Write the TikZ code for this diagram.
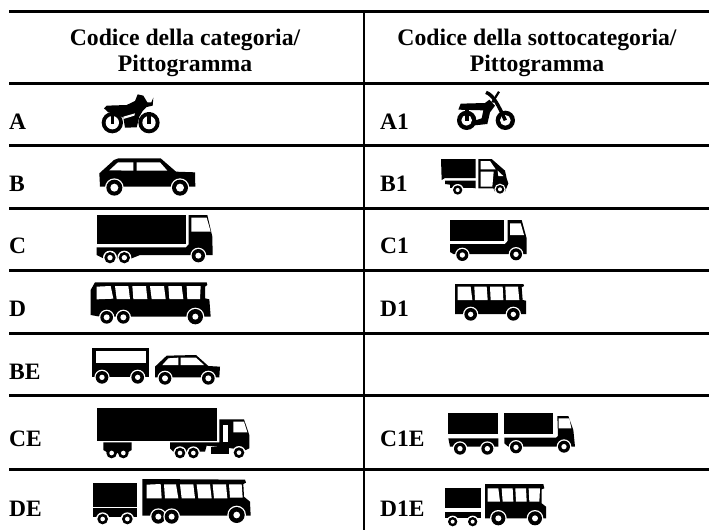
\documentclass[tikz,border=0pt]{standalone}
\usepackage{fontspec}
\setmainfont{Liberation Serif}
\newcommand\ww[4]{\fill[white] (#1,#2) circle ({#3+4}); \fill[black] (#1,#2) circle (#3); \fill[white] (#1,#2) circle (#4);}
\newcommand\wplain[4]{\fill[black] (#1,#2) circle (#3); \fill[white] (#1,#2) circle (#4);}
\tikzset{
  hrule/.style={line width=3pt,black},
  vrule/.style={line width=2pt,black},
  head/.style={font=\fontsize{23.7}{26}\selectfont\bfseries,align=center,inner sep=0pt},
  code/.style={font=\fontsize{23.5}{26}\selectfont\bfseries,anchor=base west,inner sep=0pt},
  zoomed/.style={shift={(#1)},x=0.33333pt,y=-0.33333pt},
  bk/.style={fill=black},
  wh/.style={fill=white}
}
\begin{document}
\begin{tikzpicture}[x=1pt,y=-1pt]
\useasboundingbox[fill=white] (0,0) rectangle (709,530);
% table rules
\coordinate (tl) at (9,11.5); \coordinate (tr) at (709,11.5);
\draw[hrule] (tl) -- (tr);
\foreach \yy in {83,145.7,208.3,270.5,333.3,395.7,469.5}{\draw[hrule] (9,\yy) -- (709,\yy);}
\coordinate (vt) at (364,11); \coordinate (vb) at (364,530);
\draw[vrule] (vt) -- (vb);
% headers
\node[head] (h1) at (185,53) {Codice della categoria/\\Pittogramma};
\node[head] (h2) at (537,53) {Codice della sottocategoria/\\Pittogramma};
% codes
\node[code] (cA) at (9,129) {A};
\node[code] (cB) at (9,191) {B};
\node[code] (cC) at (9,253) {C};
\node[code] (cD) at (9,316) {D};
\node[code] (cBE) at (9,379) {BE};
\node[code] (cCE) at (9,446) {CE};
\node[code] (cDE) at (9,516) {DE};
\node[code] (cA1) at (380,129) {A1};
\node[code] (cB1) at (380,191) {B1};
\node[code] (cC1) at (380,253) {C1};
\node[code] (cD1) at (380,316) {D1};
\node[code] (cC1E) at (380,446) {C1E};
\node[code] (cD1E) at (380,516) {D1E};

% A motorcycle
\begin{scope}[zoomed={90,75}]
\fill[bk] (42,100) -- (50,92) -- (110,90) -- (135,78) -- (143,58) -- (160,62) -- (172,82) -- (184,82) -- (190,68) -- (188,92) -- (170,96) -- (158,108) -- (148,125) -- (140,157) -- (105,158) -- (100,128) -- (80,118) -- (55,112) -- cycle;
\wplain{67}{143}{32}{20}
\wplain{177}{143}{32}{20}
\fill[white] (100,125) -- (135,115) -- (133,122) -- (100,132) -- cycle;
\fill[bk] (62,112) rectangle (72,148);
\fill[bk] (172,112) rectangle (182,148);
\end{scope}
% B car
\begin{scope}[zoomed={90,75}]
\fill[bk] (28,295) -- (72,255) -- (85,250) -- (212,250) -- (258,290) -- (315,292) -- (316,335) -- (30,335) -- cycle;
\fill[wh] (58,286) -- (84,262) -- (130,262) -- (130,287) -- cycle;
\fill[wh] (140,262) -- (210,262) -- (232,287) -- (140,287) -- cycle;
\ww{73}{338}{24}{12}
\ww{270}{338}{24}{12}
\end{scope}
% C truck
\begin{scope}[zoomed={90,240}]
\fill[bk] (20,-75) rectangle (287,13);
\fill[bk] (20,22) -- (288,22) -- (296,13) -- (296,-75) -- (352,-75) -- (367,-10) -- (368,45) -- (150,45) -- (125,55) -- (40,55) -- (20,45) -- cycle;
\fill[wh] (304,-67) -- (350,-67) -- (362,-25) -- (304,-25) -- cycle;
\ww{60}{53}{17}{8}
\ww{103}{53}{17}{8}
\ww{325}{47}{20}{9}
\end{scope}
% D bus
\begin{scope}[zoomed={90,240}]
\fill[bk] (15,127) -- (350,127) -- (352,135) -- (345,140) -- (345,175) -- (358,178) -- (362,230) -- (30,230) -- (2,225) -- (2,150) -- cycle;
\fill[wh] (20,140) -- (62,138) -- (70,176) -- (20,178) -- cycle;
\fill[wh] (75,138) -- (115,138) -- (120,177) -- (80,177) -- cycle;
\fill[wh] (127,138) -- (168,138) -- (172,177) -- (130,177) -- cycle;
\fill[wh] (180,138) -- (222,138) -- (227,177) -- (185,177) -- cycle;
\fill[wh] (235,138) -- (275,138) -- (280,177) -- (238,177) -- cycle;
\fill[wh] (290,138) -- (332,138) -- (330,177) -- (292,177) -- cycle;
\ww{50}{232}{19}{9}
\ww{100}{232}{19}{9}
\ww{316}{230}{23}{9}
\end{scope}
% BE
\begin{scope}[zoomed={90,240}]
\fill[bk] (5,323) rectangle (178,412);
\fill[wh] (17,333) rectangle (168,370);
\ww{36}{412}{19}{8}
\ww{143}{412}{19}{8}
\fill[bk] (195,380) -- (230,347) -- (318,345) -- (355,378) -- (390,380) -- (388,412) -- (195,412) -- cycle;
\fill[wh] (217,375) -- (235,355) -- (265,353) -- (265,375) -- cycle;
\fill[wh] (272,353) -- (318,353) -- (342,375) -- (272,375) -- cycle;
\ww{225}{415}{19}{9}
\ww{355}{415}{19}{9}
\end{scope}
% CE
\begin{scope}[zoomed={90,385}]
\fill[bk] (20,70) rectangle (380,167);
\fill[bk] (40,172) -- (125,172) -- (125,195) -- (110,204) -- (55,204) -- (40,195) -- cycle;
\wplain{65}{204}{16}{7}
\wplain{100}{204}{16}{7}
\fill[bk] (240,172) -- (398,172) -- (398,120) -- (413,120) -- (413,172) -- (388,172) -- (388,103) -- (462,103) -- (478,150) -- (478,190) -- (465,196) -- (425,190) -- (350,182) -- (345,200) -- (250,200) -- (240,190) -- cycle;
\fill[wh] (398,120) rectangle (413,172);
\fill[wh] (430,110) -- (462,110) -- (472,142) -- (430,142) -- cycle;
\fill[bk] (362,187) rectangle (416,208);
\ww{270}{204}{16}{7}
\ww{310}{204}{16}{7}
\ww{447}{203}{16}{7}
\end{scope}
% DE
\begin{scope}[zoomed={90,385}]
\fill[bk] (8,293) rectangle (140,365);
\fill[bk] (8,370) rectangle (140,396);
\ww{38}{402}{16}{7}
\ww{112}{402}{16}{7}
\fill[bk] (157,282) -- (465,284) -- (468,293) -- (460,297) -- (462,335) -- (480,350) -- (482,392) -- (157,392) -- cycle;
\fill[wh] (170,299) -- (212,297) -- (215,340) -- (170,340) -- cycle;
\fill[wh] (222,298) -- (258,298) -- (265,340) -- (225,340) -- cycle;
\fill[wh] (270,298) -- (310,298) -- (315,340) -- (275,340) -- cycle;
\fill[wh] (320,298) -- (360,298) -- (365,340) -- (325,340) -- cycle;
\fill[wh] (368,298) -- (408,298) -- (412,340) -- (372,340) -- cycle;
\fill[wh] (417,298) -- (455,298) -- (458,338) -- (420,338) -- cycle;
\ww{205}{395}{21}{9}
\ww{245}{395}{21}{9}
\ww{440}{390}{24}{10}
\end{scope}
% A1 motorcycle
\begin{scope}[zoomed={430,75}]
\wplain{110}{136}{29}{16}
\wplain{226}{136}{29}{16}
\fill[bk] (85,104) -- (92,86) -- (165,84) -- (178,74) -- (195,92) -- (180,112) -- (172,147) -- (125,152) -- (125,140) -- (155,130) -- (160,106) -- cycle;
\fill[bk] (104,100) rectangle (116,138);
\draw[line width=3.5pt] (168,52) .. controls (190,60) and (205,90) .. (226,136);
\draw[line width=2.2pt] (207,50) -- (187,82);
\end{scope}
% B1 three-wheeler
\begin{scope}[zoomed={435,150}]
\fill[bk] (18,27) -- (122,27) -- (122,84) -- (30,84) -- (20,90) -- cycle;
\fill[bk] (30,92) -- (122,92) -- (122,115) -- (30,102) -- cycle;
\fill[bk] (130,27) -- (170,27) -- (210,62) -- (215,85) -- (220,100) -- (210,125) -- (180,125) -- (175,115) -- (130,115) -- cycle;
\fill[wh] (137,33) -- (165,33) -- (182,58) -- (137,58) -- cycle;
\fill[wh] (137,65) -- (176,65) -- (172,110) -- (137,110) -- cycle;
\fill[wh] (188,62) -- (205,78) -- (190,78) -- cycle;
\fill[bk] (45,100) rectangle (110,115);
\ww{68}{120}{14}{6}
\ww{195}{118}{13}{6}
\end{scope}
% C1
\begin{scope}[zoomed={430,240}]
\fill[bk] (60,-60) rectangle (222,3);
\fill[bk] (60,12) -- (225,12) -- (233,3) -- (233,-60) -- (275,-60) -- (290,-5) -- (290,42) -- (70,42) -- (60,36) -- cycle;
\fill[wh] (240,-50) -- (272,-50) -- (282,-15) -- (240,-15) -- cycle;
\ww{97}{45}{18}{8}
\ww{258}{43}{18}{8}
\end{scope}
% D1
\begin{scope}[zoomed={430,240}]
\fill[bk] (75,132) -- (280,132) -- (282,138) -- (275,142) -- (278,180) -- (288,182) -- (288,222) -- (75,222) -- cycle;
\fill[wh] (83,140) -- (122,140) -- (127,180) -- (83,180) -- cycle;
\fill[wh] (133,140) -- (170,140) -- (173,180) -- (135,180) -- cycle;
\fill[wh] (180,140) -- (218,140) -- (220,180) -- (182,180) -- cycle;
\fill[wh] (226,140) -- (264,140) -- (268,180) -- (228,180) -- cycle;
\ww{122}{223}{19}{8}
\ww{250}{223}{19}{8}
\end{scope}
% C1E
\begin{scope}[zoomed={430,400}]
\fill[bk] (55,38) rectangle (203,103);
\fill[bk] (55,115) -- (205,115) -- (205,140) -- (60,140) -- cycle;
\ww{90}{146}{18}{8}
\ww{172}{146}{18}{8}
\fill[bk] (223,38) rectangle (370,103);
\fill[bk] (223,113) -- (378,113) -- (384,108) -- (382,48) -- (415,48) -- (430,90) -- (435,140) -- (235,140) -- (223,130) -- cycle;
\fill[wh] (386,55) -- (418,55) -- (424,85) -- (386,85) -- cycle;
\ww{258}{142}{18}{8}
\ww{402}{140}{18}{8}
\end{scope}
% D1E
\begin{scope}[zoomed={430,400}]
\fill[bk] (45,263) rectangle (152,323);
\fill[bk] (45,335) rectangle (152,355);
\ww{68}{365}{14}{6}
\ww{128}{365}{14}{6}
\fill[bk] (165,252) -- (340,252) -- (343,265) -- (335,268) -- (335,310) -- (348,320) -- (348,355) -- (165,355) -- cycle;
\fill[wh] (173,265) -- (205,265) -- (210,305) -- (173,305) -- cycle;
\fill[wh] (215,265) -- (248,265) -- (250,305) -- (218,305) -- cycle;
\fill[wh] (256,265) -- (288,265) -- (290,305) -- (258,305) -- cycle;
\fill[wh] (296,265) -- (330,265) -- (328,305) -- (298,305) -- cycle;
\ww{205}{355}{21}{9}
\ww{315}{355}{21}{9}
\end{scope}
\end{tikzpicture}
\end{document}
